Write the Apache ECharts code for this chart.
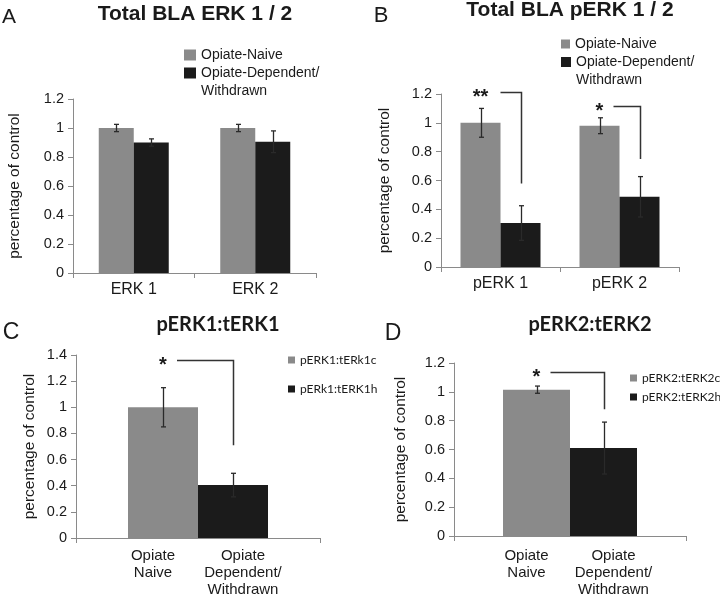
<!DOCTYPE html>
<html><head><meta charset="utf-8">
<script src="https://cdn.jsdelivr.net/npm/echarts@6/dist/echarts.min.js"></script>
<style>html,body{margin:0;padding:0;background:#fff}#c{width:720px;height:596px}</style>
</head><body><div id="c"></div>
<script>
// ---------- Panel A : Total BLA ERK 1 / 2 ----------
const aCategories = ['ERK 1', 'ERK 2'];
const aNaive = [1.00, 1.00];
const aNaiveErr = [0.025, 0.025];
const aDep = [0.90, 0.905];
const aDepErr = [0.025, 0.075];
const aSig = [];

// ---------- Panel B : Total BLA pERK 1 / 2 ----------
const bCategories = ['pERK 1', 'pERK 2'];
const bNaive = [1.00, 0.98];
const bNaiveErr = [0.10, 0.055];
const bDep = [0.305, 0.487];
const bDepErr = [0.12, 0.14];
const bSig = [[0, 1.215, 0.58, '**'], [1, 1.12, 0.75, '*']];

// ---------- Panel C : pERK1:tERK1 ----------
const cCategories = ['pERK1:tERK1'];
const cBarLabels = ['Opiate\nNaive', 'Opiate\nDependent/\nWithdrawn'];
const cNaive = [1.00];
const cNaiveErr = [0.15];
const cDep = [0.405];
const cDepErr = [0.09];
const cSig = [[0, 1.36, 0.71, '*']];

// ---------- Panel D : pERK2:tERK2 ----------
const dCategories = ['pERK2:tERK2'];
const dBarLabels = ['Opiate\nNaive', 'Opiate\nDependent/\nWithdrawn'];
const dNaive = [1.015];
const dNaiveErr = [0.025];
const dDep = [0.61];
const dDepErr = [0.18];
const dSig = [[0, 1.14, 0.88, '*']];

const GRAY = '#8a8a8a', BLACK = '#1b1b1b', INK = '#1a1a1a', AXIS = '#8a8a8a', BRK = '#333333';
const ARIAL = '"Liberation Sans", Arial, sans-serif';
const CAL = 'Lato, Carlito, Calibri, sans-serif';

const panels = [
  { grid: {left: 73, top: 99, width: 243, height: 174}, max: 1.2, cats: aCategories,
    naive: aNaive, naiveErr: aNaiveErr, dep: aDep, depErr: aDepErr, sig: aSig, bw: 35,
    names: ['Opiate-Naive', 'Opiate-Dependent/\nWithdrawn'], nameGap: 50, barLabels: null },
  { grid: {left: 441, top: 94, width: 238, height: 173}, max: 1.2, cats: bCategories,
    naive: bNaive, naiveErr: bNaiveErr, dep: bDep, depErr: bDepErr, sig: bSig, bw: 40,
    names: ['Opiate-Naive', 'Opiate-Dependent/\nWithdrawn'], nameGap: 48, barLabels: null },
  { grid: {left: 76, top: 355, width: 244, height: 183}, max: 1.4, cats: cCategories,
    naive: cNaive, naiveErr: cNaiveErr, dep: cDep, depErr: cDepErr, sig: cSig, bw: 70,
    names: ['pERK1:tERk1c', 'pERk1:tERK1h'], nameGap: 38, barLabels: cBarLabels, labelDist: 9 },
  { grid: {left: 454, top: 363, width: 232, height: 173}, max: 1.2, cats: dCategories,
    naive: dNaive, naiveErr: dNaiveErr, dep: dDep, depErr: dDepErr, sig: dSig, bw: 67,
    names: ['pERK2:tERK2c', 'pERK2:tERK2h'], nameGap: 45, barLabels: dBarLabels, labelDist: 11 }
];

const grid = [], xAxis = [], yAxis = [], series = [];
panels.forEach((p, i) => {
  grid.push(Object.assign({containLabel: false}, p.grid));
  xAxis.push({
    gridIndex: i, type: 'category', data: p.cats,
    axisLine: {show: true, lineStyle: {color: AXIS, width: 1}},
    axisTick: {show: true, length: 5, alignWithLabel: false, interval: 0, lineStyle: {color: AXIS}},
    axisLabel: {show: !p.barLabels, fontSize: 16, color: INK, fontFamily: ARIAL, margin: 9},
    splitLine: {show: false}
  });
  yAxis.push({
    gridIndex: i, type: 'value', min: 0, max: p.max, interval: 0.2,
    axisLine: {show: true, lineStyle: {color: AXIS, width: 1}},
    axisTick: {show: true, length: 5, lineStyle: {color: AXIS}},
    splitLine: {show: false},
    axisLabel: {fontSize: 14.5, color: INK, fontFamily: ARIAL, margin: 9},
    name: 'percentage of control', nameLocation: 'middle', nameGap: p.nameGap,
    nameTextStyle: {fontSize: 15.5, color: INK, fontFamily: ARIAL}
  });
  const mkLabel = (k, off) => p.barLabels ? {
    show: true, position: 'bottom', distance: p.labelDist, formatter: p.barLabels[k],
    fontSize: 15, lineHeight: 17, color: INK, fontFamily: ARIAL, offset: [off, 0], align: 'center'
  } : {show: false};
  series.push({
    type: 'bar', name: p.names[0], xAxisIndex: i, yAxisIndex: i, data: p.naive,
    barWidth: p.bw, barGap: '0%', itemStyle: {color: GRAY}, label: mkLabel(0, -10), z: 2
  });
  series.push({
    type: 'bar', name: p.names[1], xAxisIndex: i, yAxisIndex: i, data: p.dep,
    barWidth: p.bw, barGap: '0%', itemStyle: {color: BLACK}, label: mkLabel(1, 10), z: 2
  });
  const errData = p.naive.map((v, k) => [k, v, p.naiveErr[k], 0])
    .concat(p.dep.map((v, k) => [k, v, p.depErr[k], 1]));
  const bw = p.bw;
  series.push({
    type: 'custom', xAxisIndex: i, yAxisIndex: i, data: errData, z: 5, clip: false,
    encode: {x: 0, y: 1}, silent: true,
    renderItem: (params, api) => {
      const x = api.value(0), v = api.value(1), e = api.value(2), s = api.value(3);
      const c = api.coord([x, v]);
      const cx = Math.round(c[0] + (s === 0 ? -bw / 2 : bw / 2)) + 0.5;
      const top = api.coord([x, v + e])[1], bot = api.coord([x, v - e])[1];
      const st = {stroke: '#2a2a2a', lineWidth: 1.3};
      return {type: 'group', children: [
        {type: 'line', shape: {x1: cx, y1: top, x2: cx, y2: bot}, style: st},
        {type: 'line', shape: {x1: cx - 2.5, y1: top, x2: cx + 2.5, y2: top}, style: st},
        {type: 'line', shape: {x1: cx - 2.5, y1: bot, x2: cx + 2.5, y2: bot}, style: st}
      ]};
    }
  });
  if (p.sig.length) {
    series.push({
      type: 'custom', xAxisIndex: i, yAxisIndex: i, data: p.sig, z: 6, clip: false,
      encode: {x: 0, y: 1}, silent: true,
      renderItem: (params, api) => {
        const item = p.sig[params.dataIndex];
        const x = item[0], yt = item[1], yb = item[2], stars = item[3];
        const c = api.coord([x, yt]);
        const gx = c[0] - bw / 2, bx = Math.round(c[0] + bw / 2) + 0.5;
        const ytop = Math.round(c[1]) + 0.5, ybot = api.coord([x, yb])[1];
        const gap = 8 + 6 * stars.length;
        return {type: 'group', children: [
          {type: 'polyline', shape: {points: [[gx + gap, ytop], [bx, ytop], [bx, ybot]]},
           style: {stroke: BRK, lineWidth: 1.5, fill: null}},
          {type: 'text', style: {text: stars, x: gx, y: ytop + 5, align: 'center', verticalAlign: 'middle',
            fontSize: 20, fontWeight: 'bold', fontFamily: ARIAL, fill: INK}}
        ]};
      }
    });
  }
});

// Legends (one per entry so each icon can be placed like the reference).
// A two-line entry gets a leading empty line so that its first line sits beside the icon.
const legend = [];
function addLegend(name, left, cy, iw, ih, font, fs, lh) {
  const lines = name.split('\n').length;
  const twoLine = lines > 1;
  const boxH = twoLine ? (2 * lines - 1) * lh : lh;
  legend.push({
    data: [{name: name, icon: 'rect'}], left: left, top: cy - boxH / 2,
    padding: 0, itemWidth: iw, itemHeight: ih, selectedMode: false,
    formatter: twoLine ? (n => '\n'.repeat(lines - 1) + n) : '{name}',
    textStyle: {fontSize: fs, fontFamily: font, color: INK, lineHeight: lh}
  });
}
addLegend('Opiate-Naive', 184, 55, 12, 11, ARIAL, 14, 18);
addLegend('Opiate-Dependent/\nWithdrawn', 184, 73, 12, 11, ARIAL, 14, 18);
addLegend('Opiate-Naive', 561, 44, 9, 9, ARIAL, 14, 18);
addLegend('Opiate-Dependent/\nWithdrawn', 561, 62, 10, 10, ARIAL, 14, 18);
addLegend('pERK1:tERk1c', 288, 360, 7, 7, CAL, 12, 16);
addLegend('pERk1:tERK1h', 288, 389, 7, 7, CAL, 12, 16);
addLegend('pERK2:tERK2c', 630, 378, 7, 7, CAL, 12, 16);
addLegend('pERK2:tERK2h', 630, 397, 7, 7, CAL, 12, 16);

function ttl(text, x, y, fs, font, weight) {
  return {text: text, left: x, top: y, textAlign: 'center', textVerticalAlign: 'middle', padding: 0,
    textStyle: {fontSize: fs, fontFamily: font, fontWeight: weight, color: INK}};
}
const title = [
  ttl('Total BLA ERK 1 / 2', 195, 14, 21, ARIAL, 'bold'),
  ttl('Total BLA pERK 1 / 2', 570, 10, 21, ARIAL, 'bold'),
  ttl('pERK1:tERK1', 218, 325, 20, CAL, 'bold'),
  ttl('pERK2:tERK2', 590, 325, 20, CAL, 'bold'),
  ttl('A', 9, 17, 21, ARIAL, 'normal'),
  ttl('B', 381, 16, 22, ARIAL, 'normal'),
  ttl('C', 11, 333, 23, ARIAL, 'normal'),
  ttl('D', 393, 334, 23, ARIAL, 'normal')
];

const chart = echarts.init(document.getElementById('c'), null, {renderer: 'canvas'});
chart.setOption({
  animation: false, backgroundColor: '#ffffff',
  title: title, legend: legend, grid: grid, xAxis: xAxis, yAxis: yAxis, series: series
});
</script></body></html>
